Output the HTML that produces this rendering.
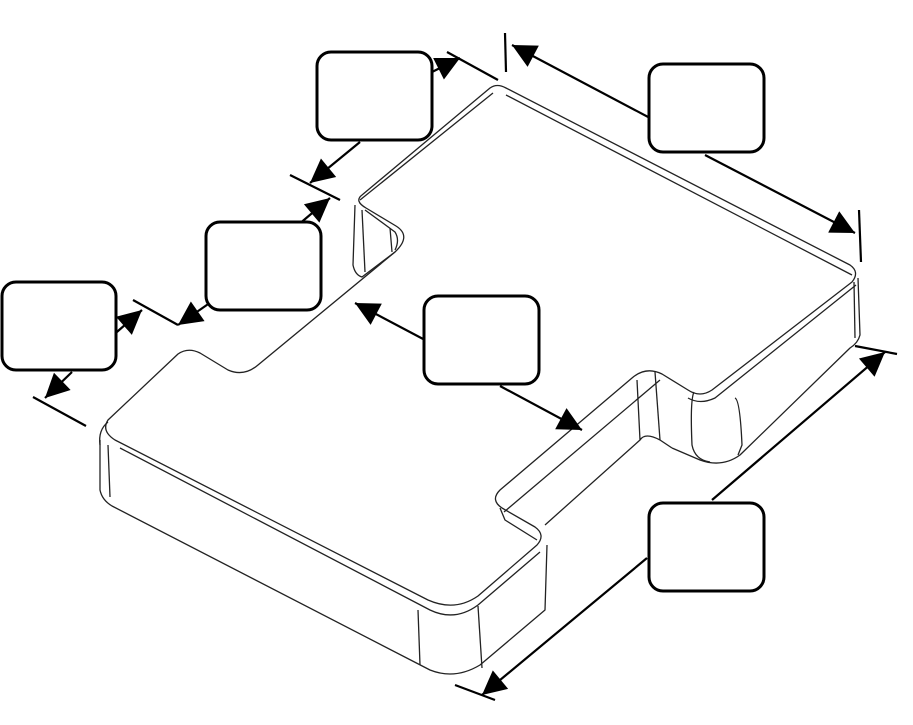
<!DOCTYPE html>
<html><head><meta charset="utf-8"><style>
html,body{margin:0;padding:0;background:#fff;}
svg{display:block}
</style></head><body>
<svg width="913" height="725" viewBox="0 0 913 725" xmlns="http://www.w3.org/2000/svg">
<defs>
<marker id="a" viewBox="0 0 10 10" refX="10" refY="5" markerWidth="8" markerHeight="8" markerUnits="userSpaceOnUse" orient="auto"><path d="M0,0 L10,5 L0,10 z" fill="#000"/></marker>
<marker id="ah" viewBox="0 0 10 10" refX="10" refY="5" markerWidth="28" markerHeight="24" markerUnits="userSpaceOnUse" orient="auto"><path d="M0,0 L10,5 L0,10 z" fill="#000"/></marker>
</defs>
<g fill="none" stroke="#222" stroke-width="1.3" stroke-linejoin="round">
<!-- top face outline -->
<path d="M490,88 Q497,83 506,88 L850,265 Q860,272 852,282 L712,390 Q700,398 688,390 L662,374 Q646,366 632,378 L500,490 Q490,500 502,508 L535,527 Q546,535 537,545 L478,596 Q455,612 428,600 L115,440 Q101,431 108,420 L178,354 Q188,347 200,353 L228,370 Q244,377 258,365 L395,252 Q412,236 396,226 L366,208 Q354,201 362,195 Z"/>
<!-- fillet inner lines -->
<path d="M493,93 L360,200"/>
<path d="M506,95 L852,275"/>
<path d="M120,448 L430,610 Q455,622 478,605 L540,552"/>
<path d="M856,285 L715,398 Q700,405 688,398"/>
<path d="M660,380 L504,512"/>
<path d="M100,445 Q98,430 108,422"/>
<!-- front bottom edges -->
<path d="M100,440 L100,490 Q102,500 112,506 L430,670 Q455,680 480,665 L545,610 L547,545"/>
<path d="M108,445 L110,497"/>
<path d="M418,610 L420,665"/>
<path d="M478,606 L482,668"/>
<!-- right block -->
<path d="M858,278 L860,335 Q858,343 850,348 L740,455 Q722,468 700,460 L672,448"/>
<path d="M854,282 L855,338"/>
<path d="M735,398 Q740,400 742,445 L738,455"/>
<path d="M694,392 Q690,400 692,445 Q695,460 710,462"/>
<path d="M655,372 L660,440"/>
<path d="M637,380 L640,440 L545,525"/>
<path d="M660,440 Q645,432 640,440"/>
<path d="M672,448 L660,440"/>
<path d="M500,508 L505,520 L537,540"/>
<!-- left notch -->
<path d="M355,205 L353,265 Q355,275 362,277 L395,252"/>
<path d="M362,210 L365,272"/>
<path d="M365,210 L395,232 Q400,240 395,250"/>
<path d="M390,228 L392,252"/>
</g>
<!-- dimension lines -->
<g stroke="#000" stroke-width="2.2" fill="none">
<line x1="447" y1="52" x2="498" y2="80"/>
<line x1="290" y1="175" x2="340" y2="200"/>
<line x1="505" y1="33" x2="506" y2="72"/>
<line x1="859" y1="210" x2="861" y2="262"/>
<line x1="133" y1="300" x2="178" y2="325"/>
<line x1="33" y1="397" x2="86" y2="426"/>
<line x1="855" y1="346" x2="897" y2="354"/>
<line x1="455" y1="685" x2="495" y2="700"/>
<line x1="420" y1="78" x2="460" y2="58" marker-end="url(#ah)"/>
<line x1="360" y1="142" x2="310" y2="183" marker-end="url(#ah)"/>
<line x1="650" y1="118" x2="512" y2="45" marker-end="url(#ah)"/>
<line x1="705" y1="155" x2="855" y2="233" marker-end="url(#ah)"/>
<line x1="298" y1="225" x2="330" y2="198" marker-end="url(#ah)"/>
<line x1="214" y1="300" x2="178" y2="325" marker-end="url(#ah)"/>
<line x1="110" y1="338" x2="142" y2="310" marker-end="url(#ah)"/>
<line x1="72" y1="372" x2="45" y2="398" marker-end="url(#ah)"/>
<line x1="425" y1="340" x2="355" y2="303" marker-end="url(#ah)"/>
<line x1="500" y1="386" x2="582" y2="430" marker-end="url(#ah)"/>
<line x1="712" y1="500" x2="885" y2="352" marker-end="url(#ah)"/>
<line x1="647" y1="558" x2="482" y2="695" marker-end="url(#ah)"/>
</g>
<g fill="#fff" stroke="#000" stroke-width="3">
<rect x="317" y="52" width="115" height="88" rx="14"/>
<rect x="649" y="64" width="115" height="88" rx="14"/>
<rect x="206" y="222" width="115" height="88" rx="14"/>
<rect x="2" y="282" width="114" height="88" rx="14"/>
<rect x="424" y="296" width="115" height="88" rx="14"/>
<rect x="649" y="503" width="115" height="88" rx="14"/>
</g>
</svg>
</body></html>
